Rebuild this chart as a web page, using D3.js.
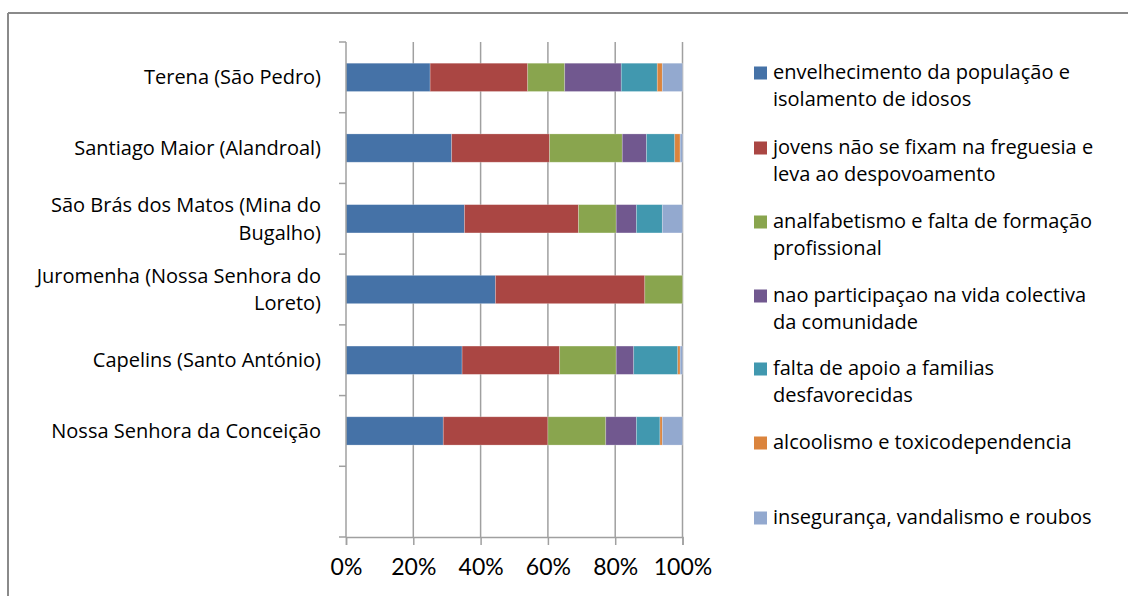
<!DOCTYPE html>
<html>
<head>
<meta charset="utf-8">
<script src="https://cdn.jsdelivr.net/npm/d3@7"></script>
<style>
  body { margin: 0; background: #fff; }
  svg { display: block; font-family: "Open Sans", Lato, sans-serif; }
</style>
</head>
<body>
<div id="chart"></div>
<script>
var width = 1128;
var height = 596;

// categories top to bottom (the bottom row is blank in the source sheet)
var categories = ['Terena (São Pedro)',
                  'Santiago Maior (Alandroal)',
                  'São Brás dos Matos (Mina do Bugalho)',
                  'Juromenha (Nossa Senhora do Loreto)',
                  'Capelins (Santo António)',
                  'Nossa Senhora da Conceição',
                  ''];

var seriesNames = ['envelhecimento da população e isolamento de idosos',
                   'jovens não se fixam na freguesia e leva ao despovoamento',
                   'analfabetismo e falta de formação profissional',
                   'nao participaçao na vida colectiva da comunidade',
                   'falta de apoio a familias desfavorecidas',
                   'alcoolismo e toxicodependencia',
                   'insegurança, vandalismo e roubos'];

var colors = ['#4572A7', '#AA4643', '#89A54E', '#71588F', '#4198AF', '#DB843D', '#93A9CF'];

// percentages per category, same order as categories
var envelhecimento = [25.0, 31.4, 35.2, 44.4, 34.5, 28.9, 0];
var jovens         = [29.0, 29.1, 33.9, 44.4, 29.0, 31.1, 0];
var analfabetismo  = [11.0, 21.6, 11.2, 11.2, 16.8, 17.2, 0];
var participacao   = [16.8,  7.2,  6.0,  0,    5.2,  9.1, 0];
var apoio          = [10.7,  8.4,  7.7,  0,   13.1,  7.0, 0];
var alcoolismo     = [ 1.5,  1.6,  0,    0,    0.7,  0.7, 0];
var inseguranca    = [ 6.0,  0.7,  6.0,  0,    0.7,  6.0, 0];

var seriesValues = [envelhecimento, jovens, analfabetismo, participacao, apoio, alcoolismo, inseguranca];

var xTicks = [0, 0.2, 0.4, 0.6, 0.8, 1];

var rows = categories.map(function(c, i){
    var r = {cat: c};
    seriesNames.forEach(function(s, k){ r[s] = seriesValues[k][i]; });
    return r;
});

var stack = d3.stack()
    .keys(seriesNames)
    .offset(d3.stackOffsetExpand);
var layers = stack(rows);

var svg = d3.select('#chart').append('svg')
    .attr('width', width)
    .attr('height', height);

// outer frame (only top and left edges show)
svg.append('line').attr('x1', 8).attr('x2', width).attr('y1', 13).attr('y2', 13)
    .attr('stroke', '#8a8a8a').attr('stroke-width', 2);
svg.append('line').attr('x1', 8).attr('x2', 8).attr('y1', 13).attr('y2', height)
    .attr('stroke', '#8a8a8a').attr('stroke-width', 2);

var x = d3.scaleLinear().domain([0, 1]).range([346, 682.5]);
var y = d3.scaleBand().domain(categories).range([42, 537]).padding(0);
var barH = y.bandwidth() * 0.4;

// vertical gridlines
svg.append('g').selectAll('line')
    .data(xTicks.slice(1)).enter()
        .append('line')
            .attr('x1', function(d){ return x(d); })
            .attr('x2', function(d){ return x(d); })
            .attr('y1', 42)
            .attr('y2', 537)
            .attr('stroke', '#a0a0a0')
            .attr('stroke-width', 1.5);

// bars
svg.append('g').selectAll('g')
    .data(layers).enter()
        .append('g')
            .attr('fill', function(d, i){ return colors[i]; })
        .selectAll('rect')
        .data(function(d){ return d.filter(function(p){ return p[1] - p[0] > 0; }); }).enter()
            .append('rect')
                .attr('x', function(d){ return x(d[0]); })
                .attr('width', function(d){ return x(d[1]) - x(d[0]); })
                .attr('y', function(d){ return y(d.data.cat) + (y.bandwidth() - barH) / 2; })
                .attr('height', barH)
                .attr('stroke', '#fff')
                .attr('stroke-opacity', 0.3)
                .attr('stroke-width', 0.75);

// y axis line and ticks at band boundaries
var bounds = categories.map(function(c){ return y(c); }).concat([537]);
svg.append('line').attr('x1', x(0)).attr('x2', x(0)).attr('y1', 42).attr('y2', 537)
    .attr('stroke', '#a0a0a0').attr('stroke-width', 1.5);
svg.append('g').selectAll('line')
    .data(bounds).enter()
        .append('line')
            .attr('x1', x(0) - 7)
            .attr('x2', x(0))
            .attr('y1', function(d){ return d; })
            .attr('y2', function(d){ return d; })
            .attr('stroke', '#a0a0a0')
            .attr('stroke-width', 1.5);

// x axis
var xAxis = svg.append('g')
    .attr('transform', 'translate(0,537)')
    .call(d3.axisBottom(x).tickValues(xTicks).tickFormat(d3.format('.0%')).tickSize(8).tickPadding(14));
xAxis.select('.domain').attr('stroke', '#a0a0a0').attr('stroke-width', 1.5);
xAxis.selectAll('.tick line').attr('stroke', '#a0a0a0').attr('stroke-width', 1.5);
xAxis.selectAll('.tick text')
    .attr('font-family', 'Lato, sans-serif')
    .attr('font-size', 23)
    .attr('fill', '#000');

function wrapLines(text, maxW, size){
    var words = text.split(' ');
    var lines = [];
    var cur = '';
    var probe = svg.append('text').attr('font-size', size).attr('visibility', 'hidden');
    words.forEach(function(w){
        var t = cur ? cur + ' ' + w : w;
        probe.text(t);
        if (cur && probe.node().getComputedTextLength() > maxW) {
            lines.push(cur);
            cur = w;
        } else {
            cur = t;
        }
    });
    if (cur) lines.push(cur);
    probe.remove();
    return lines;
}

// category labels
var catSize = 20;
var catLine = 27.5;
categories.forEach(function(c){
    if (!c) return;
    var lines = wrapLines(c, 300, catSize);
    var cy = y(c) + y.bandwidth() / 2 - (lines.length - 1) * catLine / 2;
    var t = svg.append('text')
        .attr('text-anchor', 'end')
        .attr('font-size', catSize)
        .attr('fill', '#000');
    lines.forEach(function(l, i){
        t.append('tspan')
            .attr('x', 321)
            .attr('y', cy + i * catLine)
            .attr('dy', '0.35em')
            .text(l);
    });
});

// legend
var legSize = 20;
var legLine = 27;
var legendY = [72, 147, 221, 295, 368, 442, 517];
var legend = svg.append('g');
seriesNames.forEach(function(s, i){
    var g = legend.append('g').attr('transform', 'translate(754,' + legendY[i] + ')');
    g.append('rect')
        .attr('x', 0).attr('y', -5.5)
        .attr('width', 13).attr('height', 13)
        .attr('fill', colors[i]);
    var lines = wrapLines(s, 340, legSize);
    var t = g.append('text').attr('font-size', legSize).attr('fill', '#000');
    lines.forEach(function(l, k){
        t.append('tspan')
            .attr('x', 19)
            .attr('y', k * legLine)
            .attr('dy', '0.35em')
            .text(l);
    });
});
</script>
</body>
</html>
